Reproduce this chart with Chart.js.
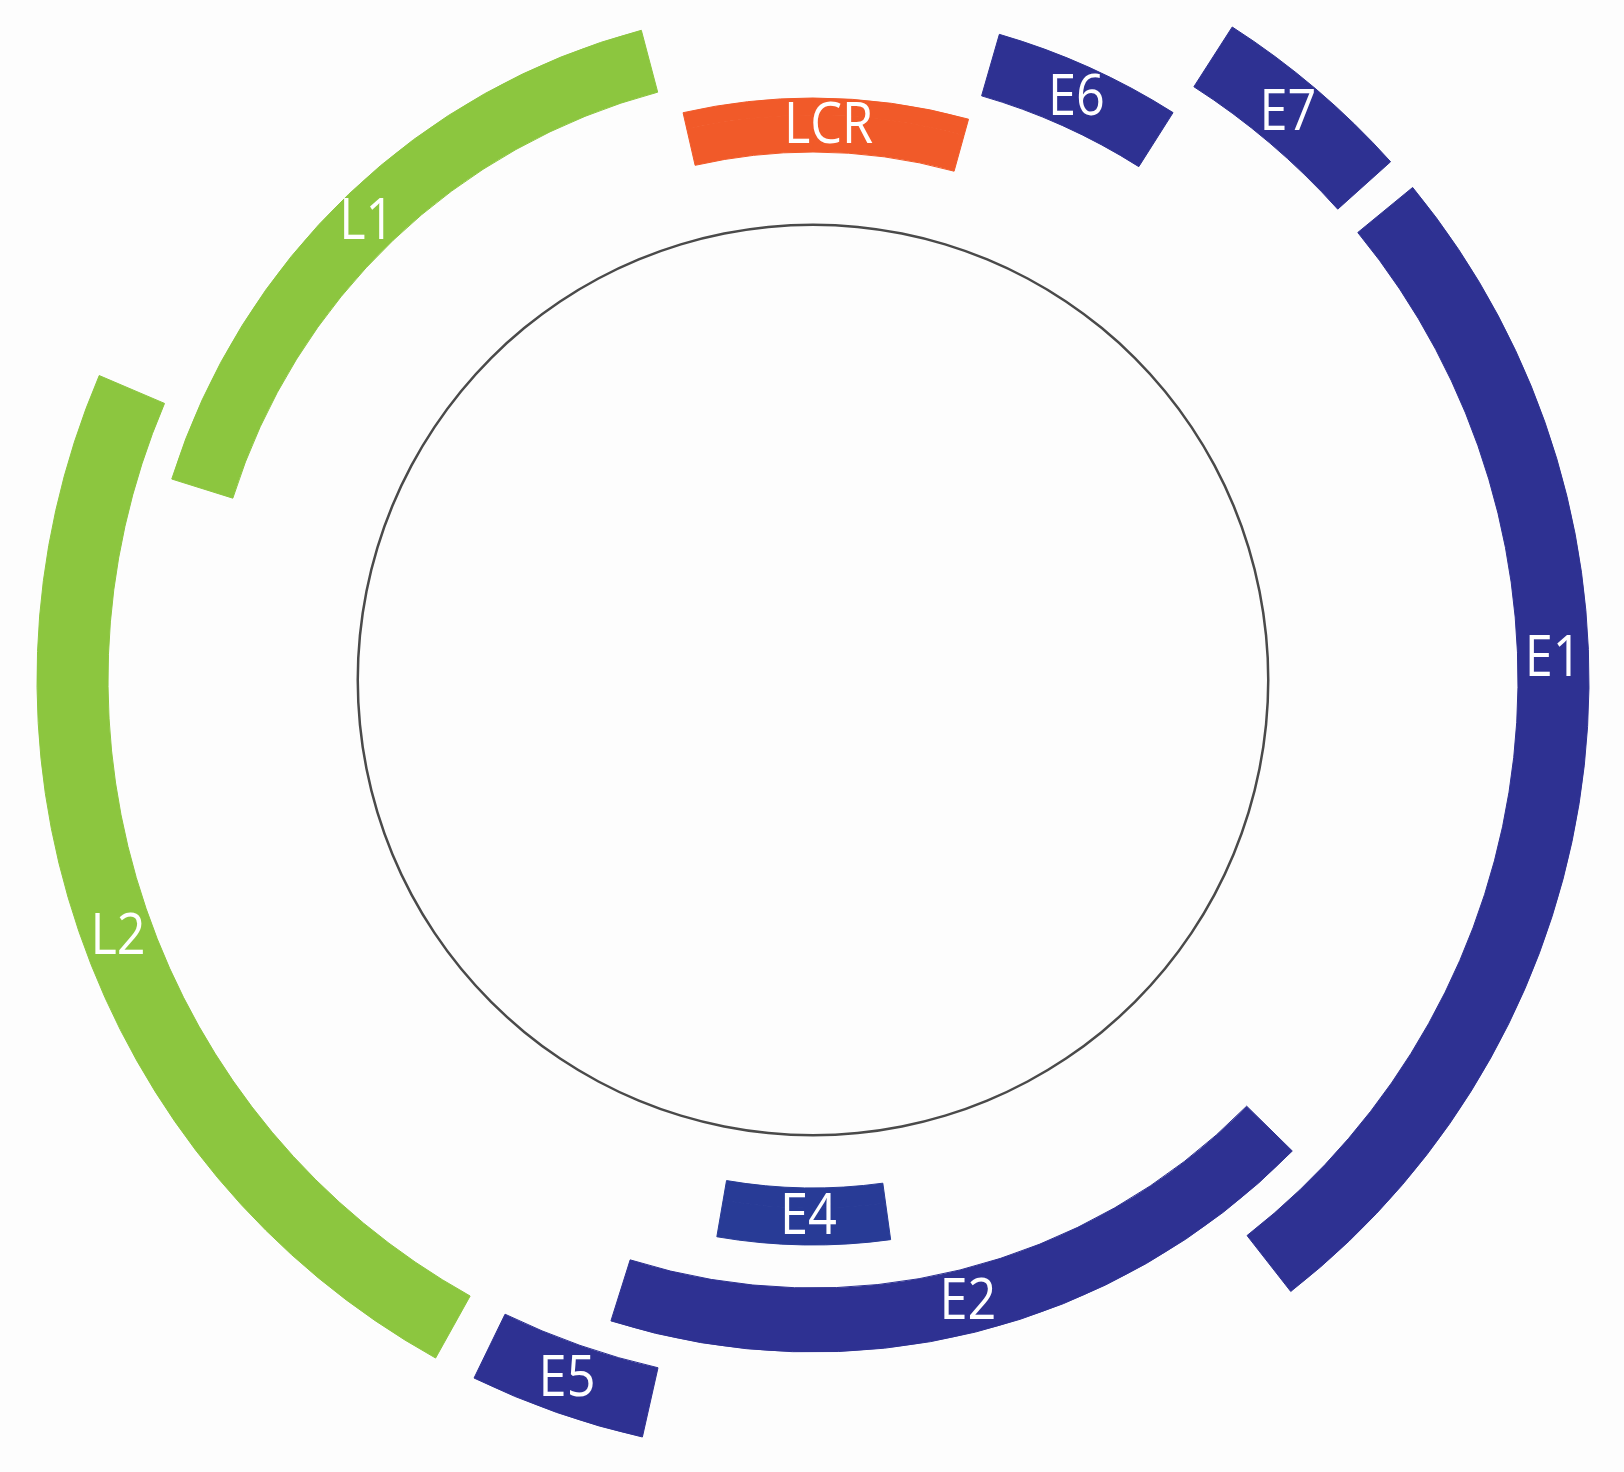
<!DOCTYPE html>
<html>
<head>
<meta charset="utf-8">
<title>HPV genome map</title>
<script src="https://cdn.jsdelivr.net/npm/chart.js@4.4.1/dist/chart.umd.min.js"></script>
<style>
  html, body { margin: 0; padding: 0; background: #fdfdfd; }
  #wrap { position: relative; width: 1624px; height: 1472px; }
  canvas { display: block; }
</style>
</head>
<body>
<div id="wrap"><canvas id="c" width="1624" height="1472"></canvas></div>
<script>
// ---------------- DATA ----------------
// Genes, with start/end position on the circular genome (degrees clockwise from top)
const genes         = ['E6',  'E7',  'E1',  'E2',  'E4',  'E5',  'L2',  'L1',  'LCR'];
const geneStartDeg  = [16.1,  32.7,  50.6,  134.5, 172.1, 192.7, 209.1, 287.4, 347.1];
const geneEndDeg    = [32.4,  48.1,  142.0, 197.5, 189.8, 205.9, 293.1, 345.2, 15.5];
const geneTrack     = ['middle','outer','outer','middle','innerLow','outer','outer','middle','innerHigh'];
const labelAngleDeg = [24.3,  39.9,  88.3,  166.0, 180.5, 199.4, 249.8, 315.8, 1.6];

// ---------------- STYLE ----------------
const geneColors = {
  E6: '#2e3192', E7: '#2e3192', E1: '#2e3192', E2: '#2e3192', E4: '#283b96',
  E5: '#2e3192', L2: '#8cc63f', L1: '#8cc63f', LCR: '#f15a29'
};
const OUTER_RADIUS = 776;
const trackRadii = {           // [inner, outer] in px
  outer:     [705, 776],
  middle:    [608, 672],
  innerHigh: [528, 582],
  innerLow:  [508, 565]
};
const circleRing = [454, 456.5];
const circleColor = '#4a4a4a';
const TRANSPARENT = 'rgba(0,0,0,0)';

// ---------------- BUILD DATASETS (radial bands) ----------------
const bounds = new Set([OUTER_RADIUS, circleRing[0], circleRing[1]]);
Object.values(trackRadii).forEach(([a, b]) => { bounds.add(a); bounds.add(b); });
const radii = [...bounds].sort((a, b) => b - a);

const datasets = [];
for (let k = 0; k < radii.length - 1; k++) {
  const rOut = radii[k], rIn = radii[k + 1];
  const data = [], bg = [], bw = [], geneOf = [];
  if (rIn >= circleRing[0] && rOut <= circleRing[1]) {
    data.push(360); bg.push(circleColor); bw.push(0); geneOf.push(null);
  } else {
    const pieces = [];
    genes.forEach((g, i) => {
      const [ti, to] = trackRadii[geneTrack[i]];
      if (ti <= rIn && to >= rOut) {
        const s = geneStartDeg[i], e = geneEndDeg[i];
        if (e < s) { pieces.push([s, 360, g]); pieces.push([0, e, g]); }
        else pieces.push([s, e, g]);
      }
    });
    pieces.sort((a, b) => a[0] - b[0]);
    let cur = 0;
    pieces.forEach(([s, e, g]) => {
      if (s > cur) { data.push(s - cur); bg.push(TRANSPARENT); bw.push(0); geneOf.push(null); }
      data.push(e - s); bg.push(geneColors[g]); bw.push(1); geneOf.push(g);
      cur = e;
    });
    if (cur < 360) { data.push(360 - cur); bg.push(TRANSPARENT); bw.push(0); geneOf.push(null); }
  }
  datasets.push({
    data, backgroundColor: bg, borderColor: bg.map(c => c), borderWidth: bw,
    weight: rOut - rIn, geneOf, clip: false, hoverOffset: 0
  });
}

// ---------------- LABEL PLUGIN ----------------
const geneLabels = {
  id: 'geneLabels',
  afterDatasetsDraw(chart) {
    const ctx = chart.ctx;
    genes.forEach((g, gi) => {
      let rMax = -Infinity, rMin = Infinity, cx = 0, cy = 0;
      chart.data.datasets.forEach((ds, di) => {
        const meta = chart.getDatasetMeta(di);
        ds.geneOf.forEach((name, idx) => {
          if (name === g) {
            const arc = meta.data[idx];
            rMax = Math.max(rMax, arc.outerRadius);
            rMin = Math.min(rMin, arc.innerRadius);
            cx = arc.x; cy = arc.y;
          }
        });
      });
      const r = (rMax + rMin) / 2;
      const t = labelAngleDeg[gi] * Math.PI / 180;
      const x = cx + r * Math.sin(t), y = cy - r * Math.cos(t);
      ctx.save();
      ctx.translate(x, y);
      ctx.scale(0.9, 1);
      ctx.fillStyle = '#ffffff';
      ctx.font = '400 56px "Open Sans", "Noto Sans", sans-serif';
      ctx.textAlign = 'center';
      ctx.textBaseline = 'middle';
      ctx.fillText(g, 0, 2);
      ctx.restore();
    });
  }
};

new Chart(document.getElementById('c'), {
  type: 'doughnut',
  data: { labels: datasets[0].data.map((_, i) => String(i)), datasets },
  options: {
    responsive: false,
    animation: false,
    events: [],
    radius: OUTER_RADIUS,
    cutout: (circleRing[0] / OUTER_RADIUS * 100) + '%',
    rotation: 0,
    circumference: 360,
    spacing: 0,
    layout: { padding: { left: 2, right: 0, top: 0, bottom: 112 } },
    plugins: { legend: { display: false }, tooltip: { enabled: false }, title: { display: false } }
  },
  plugins: [geneLabels]
});
</script>
</body>
</html>
